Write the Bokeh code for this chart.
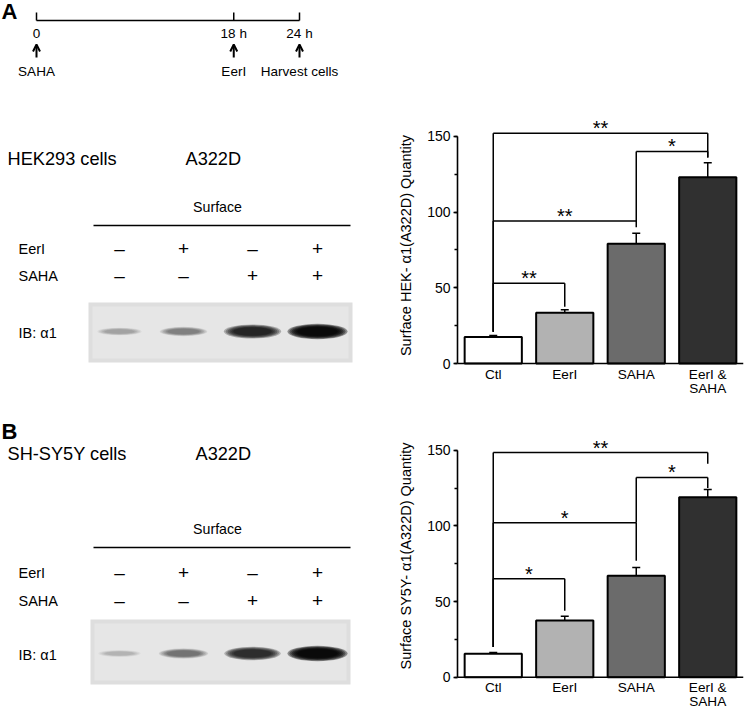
from bokeh.plotting import figure
from bokeh.layouts import column, row
from bokeh.models import (Range1d, FactorRange, SingleIntervalTicker, ColumnDataSource,
                          Whisker, TeeHead, Arrow, OpenHead)
from bokeh.core.properties import value
from bokeh.embed import file_html
from bokeh.resources import INLINE

FONT = value("Liberation Sans")

# ---------------- data ----------------
timeline_hours = [0, 18, 24]
timeline_tick_labels = ["0", "18 h", "24 h"]
timeline_events = ["SAHA", "EerI", "Harvest cells"]

eeri_treatment = [0, 1, 0, 1]
saha_treatment = [0, 0, 1, 1]
hek_band_signal = [0.30, 0.45, 0.88, 1.0]
sy5y_band_signal = [0.22, 0.52, 0.84, 1.0]

categories = ["Ctl", "EerI", "SAHA", "EerI &\nSAHA"]
bar_colors = ["#ffffff", "#b2b2b2", "#6b6b6b", "#303030"]

hek_mean = [17.5, 33.5, 79, 123]
hek_sem = [1.0, 2.0, 7.0, 9.5]
sy5y_mean = [15.5, 37.5, 67, 119]
sy5y_sem = [0.8, 2.8, 5.5, 5.0]

hek_sig_left = ["Ctl", "Ctl", "SAHA", "Ctl"]
hek_sig_right = ["EerI", "SAHA", "EerI &\nSAHA", "EerI &\nSAHA"]
hek_sig_level = [53, 94, 140, 152]
hek_sig_left_foot = [21, 21, 94, 21]
hek_sig_right_foot = [37.5, 90, 136, 136]
hek_sig_mark = ["**", "**", "*", "**"]

sy5y_sig_left = ["Ctl", "Ctl", "SAHA", "Ctl"]
sy5y_sig_right = ["EerI", "SAHA", "EerI &\nSAHA", "EerI &\nSAHA"]
sy5y_sig_level = [65, 102, 132, 148.5]
sy5y_sig_left_foot = [20, 20, 102, 20]
sy5y_sig_right_foot = [44, 77, 125, 141]
sy5y_sig_mark = ["*", "*", "*", "**"]

# ---------------- layout constants (page pixel space) ----------------
LANE_X = [119, 183, 252, 317]
INK = "black"


def canvas(x0, x1, y0, y1):
    p = figure(width=int(x1 - x0), height=int(y1 - y0), x_range=Range1d(x0, x1),
               y_range=Range1d(y1, y0), x_axis_type=None, y_axis_type=None,
               toolbar_location=None, output_backend="svg", min_border=0,
               outline_line_color=None)
    p.grid.visible = False
    return p


def txt(p, x, y, s, size, align="left", bold=False, baseline="middle"):
    p.text(x=[x], y=[y], text=[s], text_font=FONT, text_font_size=size,
           text_align=align, text_baseline=baseline, text_color=INK,
           text_font_style="bold" if bold else "normal")


# ---------------- timeline ----------------
top = canvas(0, 745, 0, 88)
TL0, TL1 = 36, 299
tx = [TL0 + h / timeline_hours[-1] * (TL1 - TL0) for h in timeline_hours]
txt(top, 1, 11, "A", "22px", bold=True)
top.segment(x0=[TL0], y0=[20], x1=[TL1], y1=[20], line_color=INK, line_width=1.5)
top.segment(x0=tx, y0=[20] * 3, x1=tx, y1=[12] * 3, line_color=INK, line_width=1.5)
top.text(x=tx, y=[33] * 3, text=timeline_tick_labels, text_font=FONT, text_font_size="13.5px",
         text_align="center", text_baseline="middle", text_color=INK)
for x in tx:
    top.add_layout(Arrow(x_start=x, y_start=57, x_end=x, y_end=44, line_width=2, line_color=INK,
                         end=OpenHead(size=7, line_width=2, line_color=INK)))
top.text(x=tx, y=[71] * 3, text=timeline_events, text_font=FONT, text_font_size="13.5px",
         text_align="center", text_baseline="middle", text_color=INK)


# ---------------- blot panels ----------------
def blot_panel(y_top, y_bot, letter, letter_y, cell, cell_y, mut_x, surf_y, line_y,
               row1_y, row2_y, bx0, bx1, by0, by1, band_y, signal):
    p = canvas(0, 372, y_top, y_bot)
    if letter:
        txt(p, 1, letter_y, letter, "22px", bold=True)
    txt(p, 7, cell_y, cell, "18.2px")
    txt(p, mut_x, cell_y, "A322D", "18.2px")
    txt(p, 217, surf_y, "Surface", "14.2px", align="center")
    p.segment(x0=[93], y0=[line_y], x1=[350], y1=[line_y], line_color=INK, line_width=1.5)
    txt(p, 18, row1_y, "EerI", "14.5px")
    txt(p, 18, row2_y, "SAHA", "14.5px")
    sign = lambda v: "+" if v else "\u2013"
    p.text(x=LANE_X, y=[row1_y] * 4, text=[sign(v) for v in eeri_treatment], text_font=FONT,
           text_font_size="19px", text_align="center", text_baseline="middle", text_color=INK)
    p.text(x=LANE_X, y=[row2_y] * 4, text=[sign(v) for v in saha_treatment], text_font=FONT,
           text_font_size="19px", text_align="center", text_baseline="middle", text_color=INK)
    # membrane
    p.quad(left=[bx0], right=[bx1], top=[by0], bottom=[by1], fill_color="#dedede", line_color=None)
    p.quad(left=[bx0 + 4], right=[bx1 - 4], top=[by0 + 4], bottom=[by1 - 4],
           fill_color="#e6e6e6", line_color=None)
    txt(p, 18, band_y + 1, "IB: \u03b11", "14.5px")
    xs, ys, ws, hs, al = [], [], [], [], []
    n = 6
    for lx, s in zip(LANE_X, signal):
        w = 36 + 22 * s
        hh = 4 + 10 * s
        dark = 0.95 * s
        a = 1 - (1 - dark) ** (1 / n)
        for k in range(n):
            f = 1.08 - k * 0.15
            xs.append(lx); ys.append(band_y)
            ws.append(w * (0.55 + 0.45 * f)); hs.append(hh * (0.45 + 0.6 * f)); al.append(a)
    p.ellipse(x=xs, y=ys, width=ws, height=hs, fill_color="black", fill_alpha=al, line_color=None)
    return p


blotA = blot_panel(88, 402, None, 0, "HEK293 cells", 158, 185, 206, 225, 248, 275,
                   88, 352, 302, 362, 331, hek_band_signal)
blotB = blot_panel(402, 709, "B", 431, "SH-SY5Y cells", 453, 195, 528, 547, 572, 600,
                   90, 350, 619, 684, 653, sy5y_band_signal)


# ---------------- bar charts ----------------
def bar_chart(mean, sem, left, right, level, lfoot, rfoot, mark, ylabel, h, y0_px, ppu):
    ymax = y0_px / ppu
    ylo = -(h - y0_px) / ppu
    p = figure(width=373, height=h, x_range=FactorRange(factors=categories),
               y_range=Range1d(ylo, ymax), x_axis_location=None,
               min_border_left=85, min_border_right=2, min_border_top=0, min_border_bottom=0,
               toolbar_location=None, output_backend="svg", outline_line_color=None)
    p.grid.visible = False
    src = ColumnDataSource(dict(cat=categories, mean=mean,
                                upper=[m + e for m, e in zip(mean, sem)], color=bar_colors))
    p.vbar(x="cat", top="mean", bottom=0, width=0.8, fill_color="color", line_color=INK,
           line_width=2, source=src)
    p.add_layout(Whisker(base="cat", lower="mean", upper="upper", source=src, line_width=1.5,
                         line_color=INK,
                         upper_head=TeeHead(size=8, line_width=1.5, line_color=INK),
                         lower_head=None))
    # category axis line and labels
    p.segment(x0=[0], y0=[0], x1=[len(categories)], y1=[0], line_color=INK, line_width=1.6)
    p.text(x=categories, y=[0] * len(categories), text=categories, text_font=FONT,
           text_font_size="13.6px", text_align="center", text_baseline="top",
           text_line_height=0.95, y_offset=3, text_color=INK)
    # significance brackets
    xl = [categories.index(c) + 0.5 for c in left]
    xr = [categories.index(c) + 0.5 for c in right]
    p.segment(x0=xl, y0=lfoot, x1=xl, y1=level, line_color=INK, line_width=1.5)
    p.segment(x0=xl, y0=level, x1=xr, y1=level, line_color=INK, line_width=1.5)
    p.segment(x0=xr, y0=level, x1=xr, y1=rfoot, line_color=INK, line_width=1.5)
    p.text(x=[(a + b) / 2 for a, b in zip(xl, xr)], y=level, text=mark, text_font=FONT,
           text_font_size="20px", text_align="center", text_baseline="middle", y_offset=-5,
           text_color=INK)

    ya = p.yaxis[0]
    ya.ticker = SingleIntervalTicker(interval=50, num_minor_ticks=2)
    ya.bounds = (0, 150)
    ya.axis_line_width = 1.6
    ya.axis_line_color = INK
    ya.major_tick_line_width = 1.5
    ya.minor_tick_line_width = 1.5
    ya.major_tick_line_color = INK
    ya.minor_tick_line_color = INK
    ya.major_tick_out = 4
    ya.major_tick_in = 0
    ya.minor_tick_out = 3
    ya.minor_tick_in = 0
    ya.major_label_standoff = 3
    ya.major_label_text_font = "Liberation Sans"
    ya.major_label_text_font_size = "14px"
    ya.major_label_text_color = INK
    ya.axis_label = ylabel
    ya.axis_label_text_font = "Liberation Sans"
    ya.axis_label_text_font_size = "14.5px"
    ya.axis_label_text_font_style = "normal"
    ya.axis_label_text_color = INK
    ya.axis_label_standoff = 10
    return p


barA = bar_chart(hek_mean, hek_sem, hek_sig_left, hek_sig_right, hek_sig_level,
                 hek_sig_left_foot, hek_sig_right_foot, hek_sig_mark,
                 "Surface HEK- \u03b11(A322D) Quantity", 314, 363 - 88, 1.515)
barB = bar_chart(sy5y_mean, sy5y_sem, sy5y_sig_left, sy5y_sig_right, sy5y_sig_level,
                 sy5y_sig_left_foot, sy5y_sig_right_foot, sy5y_sig_mark,
                 "Surface SY5Y- \u03b11(A322D) Quantity", 307, 676.7 - 402, 1.513)

layout = column(top, row(blotA, barA), row(blotB, barB))
open("out.html", "w").write(file_html(layout, INLINE))
